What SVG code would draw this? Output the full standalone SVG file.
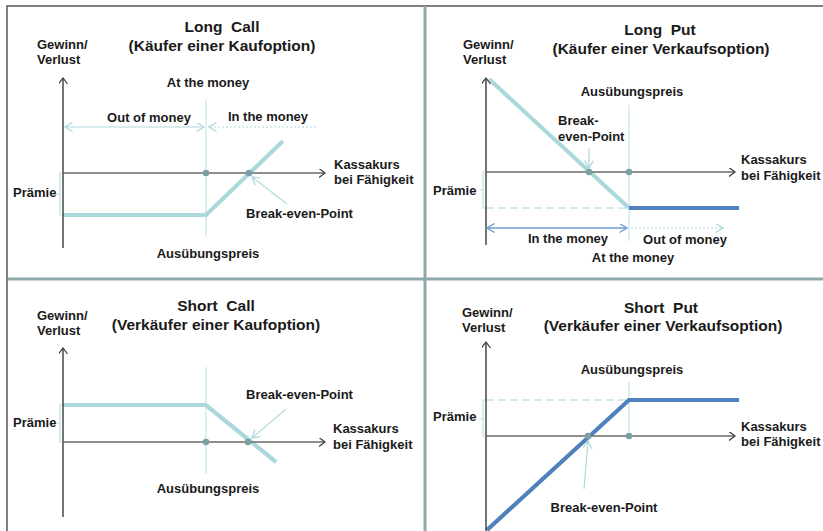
<svg xmlns="http://www.w3.org/2000/svg" width="823" height="531" viewBox="0 0 823 531">
<defs>
<style>
text{font-family:"Liberation Sans",Arial,sans-serif;font-weight:bold;fill:#1a1a1a}
.t{font-size:15.5px;text-anchor:middle}
.l{font-size:13px}
.c{text-anchor:middle}
.ax{stroke:#3a3a3a;stroke-width:1.4;fill:none}
.xax{stroke:#6a6a6a;stroke-width:1.6;fill:none}
.vl{stroke:#c6e6e7;stroke-width:1.2;fill:none}
.pl{stroke:#abd8da;stroke-width:4.2;fill:none}
.pb{stroke:#4f81bd;stroke-width:4.2;fill:none}
.br{stroke:#b9dfe0;stroke-width:1.2;fill:none}
.dl{stroke:#c6e6e7;stroke-width:1.5;fill:none;stroke-dasharray:8 4}
.la{stroke:#b1dadc;stroke-width:1.2;fill:none}
.dot{fill:#7c9fa3}
.frame{stroke:#555;stroke-width:1.5;fill:none}
.div{stroke:#8fa9ab;stroke-width:3;fill:none}
</style>
<marker id="axA" markerUnits="userSpaceOnUse" markerWidth="10" markerHeight="10" refX="6.5" refY="4.5" orient="auto" viewBox="0 0 10 10"><path d="M0.5,0 L6.5,4.5 L0.5,9" fill="none" stroke="#3a3a3a" stroke-width="1.2"/></marker>
<marker id="lA" markerUnits="userSpaceOnUse" markerWidth="10" markerHeight="10" refX="8" refY="4.5" orient="auto-start-reverse" viewBox="0 0 10 10"><path d="M0.5,0 L8,4.5 L0.5,9" fill="none" stroke="#a9d6d8" stroke-width="1.2"/></marker>
<marker id="bA" markerUnits="userSpaceOnUse" markerWidth="10" markerHeight="10" refX="8" refY="4.5" orient="auto-start-reverse" viewBox="0 0 10 10"><path d="M0.5,0 L8,4.5 L0.5,9" fill="none" stroke="#6b9bd1" stroke-width="1.3"/></marker>
</defs>
<rect width="823" height="531" fill="#fff"/>
<g id="frame">
<path class="frame" d="M7,531 V6 H823"/>
<path class="div" d="M425,6 V531 M8,279 H823"/>
</g>

<g id="long-call">
<text class="t" x="222" y="32" xml:space="preserve">Long  Call</text>
<text class="t" x="222" y="51">(Käufer einer Kaufoption)</text>
<text class="l" x="37" y="49">Gewinn/</text>
<text class="l" x="37" y="64">Verlust</text>
<text class="l c" x="208" y="87">At the money</text>
<text class="l c" x="149" y="122">Out of money</text>
<text class="l c" x="268" y="121">In the money</text>
<text class="l" x="334" y="169">Kassakurs</text>
<text class="l" x="334" y="184">bei Fähigkeit</text>
<text class="l" x="13" y="197">Prämie</text>
<text class="l" x="246" y="218">Break-even-Point</text>
<text class="l c" x="208" y="258">Ausübungspreis</text>
<path class="vl" d="M206,99 V237"/>
<path class="br" d="M63,173 H60 V215 H63 M60,194 H57"/>
<path class="pl" d="M63,215 H206 L283,141"/>
<path class="ax" d="M63,248 V78" marker-end="url(#axA)"/>
<path class="xax" d="M63,173 H325" marker-end="url(#axA)"/>
<circle class="dot" cx="206" cy="173" r="3.3"/>
<circle class="dot" cx="249" cy="173" r="3.3"/>
</g>

<g id="long-put">
<text class="t" x="660" y="35" xml:space="preserve">Long  Put</text>
<text class="t" x="661" y="54">(Käufer einer Verkaufsoption)</text>
<text class="l" x="463" y="49">Gewinn/</text>
<text class="l" x="463" y="64">Verlust</text>
<text class="l c" x="632" y="96">Ausübungspreis</text>
<text class="l" x="558" y="125">Break-</text>
<text class="l" x="558" y="141">even-Point</text>
<text class="l" x="741" y="164">Kassakurs</text>
<text class="l" x="741" y="180">bei Fähigkeit</text>
<text class="l" x="433" y="195">Prämie</text>
<text class="l c" x="568" y="243">In the money</text>
<text class="l c" x="685" y="244">Out of money</text>
<text class="l c" x="633" y="262">At the money</text>
<path class="vl" d="M629,105 V241"/>
<path class="dl" d="M486,208 H629"/>
<path class="br" d="M486,172 H483 V208 H486 M483,190 H480"/>
<path class="pl" d="M489,79 L629,208"/>
<path class="pb" d="M629,208 H739"/>
<path class="ax" d="M486,245 V78" marker-end="url(#axA)"/>
<path class="xax" d="M486,172 H735" marker-end="url(#axA)"/>
<circle class="dot" cx="589" cy="172" r="3.3"/>
<circle class="dot" cx="629" cy="172" r="3.3"/>
</g>

<g id="short-call">
<text class="t" x="216" y="311" xml:space="preserve">Short  Call</text>
<text class="t" x="216" y="330">(Verkäufer einer Kaufoption)</text>
<text class="l" x="37" y="320">Gewinn/</text>
<text class="l" x="37" y="335">Verlust</text>
<text class="l" x="246" y="399">Break-even-Point</text>
<text class="l" x="13" y="427">Prämie</text>
<text class="l" x="333" y="433">Kassakurs</text>
<text class="l" x="333" y="449">bei Fähigkeit</text>
<text class="l c" x="208" y="493">Ausübungspreis</text>
<path class="vl" d="M206,367 V474"/>
<path class="br" d="M63,405 H60 V442 H63 M60,423 H57"/>
<path class="pl" d="M63,405 H206 L276,462"/>
<path class="ax" d="M63,517 V348" marker-end="url(#axA)"/>
<path class="xax" d="M63,442 H325" marker-end="url(#axA)"/>
<circle class="dot" cx="206" cy="442" r="3.3"/>
<circle class="dot" cx="248" cy="442" r="3.3"/>
</g>

<g id="short-put">
<text class="t" x="661" y="313" xml:space="preserve">Short  Put</text>
<text class="t" x="663" y="331">(Verkäufer einer Verkaufsoption)</text>
<text class="l" x="462" y="317">Gewinn/</text>
<text class="l" x="462" y="332">Verlust</text>
<text class="l c" x="632" y="374">Ausübungspreis</text>
<text class="l" x="433" y="421">Prämie</text>
<text class="l" x="741" y="431">Kassakurs</text>
<text class="l" x="741" y="446">bei Fähigkeit</text>
<text class="l c" x="604" y="512">Break-even-Point</text>
<path class="vl" d="M629,382 V436"/>
<path class="dl" d="M486,400 H629"/>
<path class="br" d="M486,400 H483 V436 H486 M483,419 H480"/>
<path class="pb" d="M487,530 L629,400 H739"/>
<path class="ax" d="M486,531 V342" marker-end="url(#axA)"/>
<path class="xax" d="M486,436 H735" marker-end="url(#axA)"/>
<circle class="dot" cx="588" cy="436" r="3.3"/>
<circle class="dot" cx="629" cy="436" r="3.3"/>
</g>

<g id="connectors">
<path class="la" d="M65,127 H204" marker-start="url(#lA)" marker-end="url(#lA)"/>
<path class="la" d="M316,127 H209" stroke-dasharray="2 2" marker-end="url(#lA)"/>
<path class="la" d="M287,204 L252,177" marker-end="url(#lA)"/>
<path d="M487,228 H627" fill="none" stroke="#6b9bd1" stroke-width="1.3" marker-start="url(#bA)" marker-end="url(#bA)"/>
<path class="la" d="M631,228 H723" stroke-dasharray="2 2" marker-end="url(#lA)"/>
<path class="la" d="M589,148 V168" marker-end="url(#lA)"/>
<path class="la" d="M286,409 L252,438" marker-end="url(#lA)"/>
<path class="la" d="M584,489 L588,441" marker-end="url(#lA)"/>
</g>
</svg>
